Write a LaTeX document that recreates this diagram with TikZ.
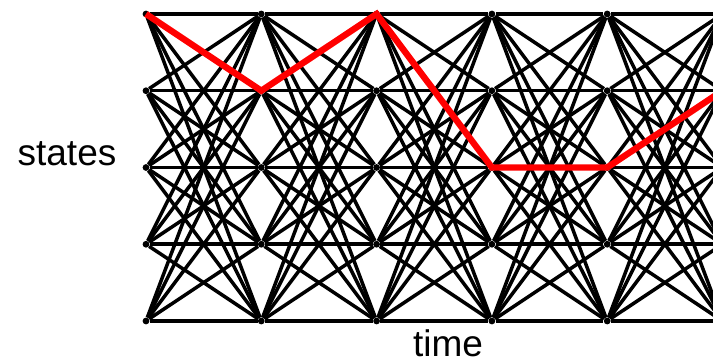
\documentclass[tikz,border=0pt]{standalone}
\usepackage{fontspec}
\setmainfont{Liberation Sans}
\usepackage{xcolor}
\definecolor{ColPath}{RGB}{255,0,0}
\tikzstyle{StateNode}=[circle,fill=black,inner sep=0pt,minimum size=3.4pt]
\tikzstyle{EdgeTrellis}=[black,line width=1.75pt]
\tikzstyle{PathBest}=[ColPath,line width=3.2pt]
\tikzstyle{LabelText}=[inner sep=0pt,anchor=base,font=\fontsize{18.5}{20}\selectfont]

\begin{document}
\begin{tikzpicture}[x=0.5pt,y=-0.5pt]
        \useasboundingbox (0,0) rectangle (713,362);
        \clip (0,0) rectangle (713,362);
        \foreach \i in {0,...,5}
            \foreach \j in {0,...,4}
                \node[StateNode](s\i\j)at({146+115.3*\i},{14+76.75*\j}){};
        \foreach \i in {0,...,4}{
            \pgfmathtruncatemacro{\n}{\i+1}
            \foreach \j in {0,...,4}
                \foreach \k in {0,...,4}
                    \draw[EdgeTrellis](s\i\j)--(s\n\k);
        }
        \draw[PathBest](s00.center)--(s11.center)--(s20.center)--(s32.center)
            --(s42.center)--(s51.center);
        \node[LabelText](states)at(67,166){states};
        \node[LabelText](time)at(448,357){time};
    \end{tikzpicture}
\end{document}
